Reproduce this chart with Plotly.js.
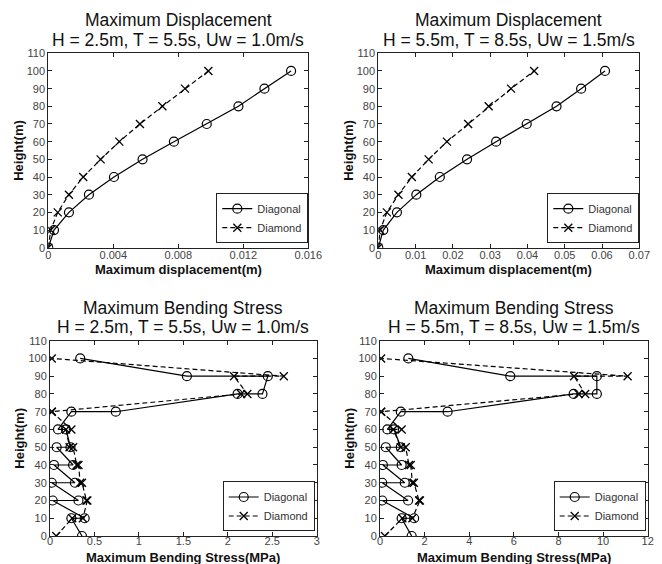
<!DOCTYPE html>
<html>
<head>
<meta charset="utf-8">
<script src="https://cdn.plot.ly/plotly-3.0.1.min.js"></script>
<style>html,body{margin:0;padding:0;background:#fff;}#chart{width:662px;height:564px;}</style>
</head>
<body>
<div id="chart"></div>
<script>
// ---- data ----
const heights = [0, 10, 20, 30, 40, 50, 60, 70, 80, 90, 100];
const dispDiagonalA = [0, 0.00035, 0.00127, 0.0025, 0.00404, 0.0058, 0.00773, 0.00975, 0.0117, 0.0133, 0.01494];
const dispDiamondA  = [0, 0.00015, 0.00058, 0.00127, 0.00215, 0.00322, 0.00437, 0.00564, 0.00702, 0.00841, 0.00985];
const dispDiagonalB = [0, 0.00134, 0.0050, 0.0102, 0.0165, 0.0238, 0.0316, 0.0398, 0.0478, 0.0544, 0.0608];
const dispDiamondB  = [0, 0.0005, 0.0023, 0.0054, 0.009, 0.0135, 0.0184, 0.0241, 0.0296, 0.0356, 0.0418];

const stressHeights = [0, 10, 10, 20, 20, 30, 30, 40, 40, 50, 50, 60, 60, 70, 70, 80, 80, 90, 90, 100];
const stressDiagonalA = [0.36, 0.24, 0.39, 0.03, 0.32, 0.02, 0.28, 0.045, 0.26, 0.075, 0.23, 0.18, 0.09, 0.24, 0.74, 2.11, 2.39, 2.45, 1.54, 0.34];
const stressDiamondA  = [0.07, 0.25, 0.37, 0.42, 0.41, 0.36, 0.34, 0.32, 0.30, 0.26, 0.22, 0.18, 0.24, 0.02, 0.02, 2.15, 2.22, 2.07, 2.63, 0.02];
const stressDiagonalB = [1.42, 0.97, 1.53, 0.10, 1.26, 0.10, 1.11, 0.13, 0.97, 0.26, 0.93, 0.63, 0.33, 0.93, 3.03, 8.68, 9.72, 9.72, 5.84, 1.27];
const stressDiamondB  = [0.22, 1.00, 1.45, 1.79, 1.75, 1.52, 1.45, 1.38, 1.30, 1.15, 0.93, 0.60, 0.97, 0.05, 0.05, 8.90, 9.20, 8.70, 11.10, 0.05];

const seriesNames = ['Diagonal', 'Diamond'];
const titleLine1 = ['Maximum Displacement', 'Maximum Displacement', 'Maximum Bending Stress', 'Maximum Bending Stress'];
const titleLine2 = ['H = 2.5m, T = 5.5s, Uw = 1.0m/s', 'H = 5.5m, T = 8.5s, Uw = 1.5m/s', 'H = 2.5m, T = 5.5s, Uw = 1.0m/s', 'H = 5.5m, T = 8.5s, Uw = 1.5m/s'];
const xTitles = ['Maximum displacement(m)', 'Maximum displacement(m)', 'Maximum Bending Stress(MPa)', 'Maximum Bending Stress(MPa)'];
const yTitle = 'Height(m)';

// ---- drawing ----
const W = 662, Hpx = 564;
const FONT = 'Arial, Liberation Sans, sans-serif';
const boxes = [ // plot boxes in px: [left, right, top, bottom]
  [48.3, 308.3, 53.3, 247.7],
  [378.3, 639.3, 53.3, 247.7],
  [50, 316.7, 340.7, 536],
  [380, 647.7, 340.7, 536]
];
const xRanges = [[0, 0.016], [0, 0.07], [0, 3], [0, 12]];
const xDticks = [0.004, 0.01, 0.5, 2];

function diagTrace(x, y, i) {
  return {x: x, y: y, type: 'scatter', mode: 'lines+markers', name: seriesNames[0],
    xaxis: 'x' + (i + 1), yaxis: 'y' + (i + 1), legend: i === 0 ? 'legend' : 'legend' + (i + 1),
    line: {color: '#000', width: 1.2},
    marker: {symbol: 'circle-open', size: 9, color: '#000', line: {width: 1.2, color: '#000'}}};
}
function diamTrace(x, y, i) {
  return {x: x, y: y, type: 'scatter', mode: 'lines+markers', name: seriesNames[1],
    xaxis: 'x' + (i + 1), yaxis: 'y' + (i + 1), legend: i === 0 ? 'legend' : 'legend' + (i + 1),
    line: {color: '#000', width: 1.2, dash: '5px,3px'},
    marker: {symbol: 'x-thin-open', size: 8, color: '#000', line: {width: 1.3, color: '#000'}}};
}

const data = [
  diagTrace(dispDiagonalA, heights, 0), diamTrace(dispDiamondA, heights, 0),
  diagTrace(dispDiagonalB, heights, 1), diamTrace(dispDiamondB, heights, 1),
  diagTrace(stressDiagonalA, stressHeights, 2), diamTrace(stressDiamondA, stressHeights, 2),
  diagTrace(stressDiagonalB, stressHeights, 3), diamTrace(stressDiamondB, stressHeights, 3)
];

const layout = {
  width: W, height: Hpx, margin: {l: 0, r: 0, t: 0, b: 0},
  paper_bgcolor: '#fff', plot_bgcolor: '#fff',
  font: {family: FONT, color: '#000'},
  showlegend: true,
  annotations: []
};

boxes.forEach((b, i) => {
  const n = i + 1;
  const axBase = {showline: true, linecolor: '#222', linewidth: 1, mirror: 'ticks',
    ticks: 'inside', ticklen: 4, tickcolor: '#222', showgrid: false, zeroline: false,
    tickfont: {family: FONT, size: 11, color: '#444'}, fixedrange: true};
  layout['xaxis' + n] = Object.assign({}, axBase, {
    domain: [b[0] / W, b[1] / W], anchor: 'y' + n, range: xRanges[i],
    tick0: 0, dtick: xDticks[i], ticklabelstandoff: i >= 2 ? -5 : -3
  });
  layout['yaxis' + n] = Object.assign({}, axBase, {
    domain: [1 - b[3] / Hpx, 1 - b[2] / Hpx], anchor: 'x' + n, range: [0, 110],
    tick0: 0, dtick: 10,
    title: {text: yTitle, font: {family: FONT, size: 13, color: '#111', weight: 'bold'}, standoff: 0}
  });
  layout[i === 0 ? 'legend' : 'legend' + n] = {
    x: b[1] / W - (i >= 2 ? 0.003 : 0), xanchor: 'right', xref: 'paper',
    y: 1 - b[3] / Hpx + 0.008, yanchor: 'bottom', yref: 'paper',
    bgcolor: '#fff', bordercolor: '#222', borderwidth: 1,
    font: {family: FONT, size: 11, color: '#333'}, itemwidth: 30, tracegroupgap: 0,
    traceorder: 'normal'
  };
  const cx = (b[0] + b[1]) / 2 / W;
  layout.annotations.push({xref: 'paper', yref: 'paper', x: cx, y: 1 - (b[2] - 33) / Hpx,
    text: titleLine1[i], showarrow: false, xanchor: 'center', yanchor: 'middle',
    font: {family: FONT, size: 17.5, color: '#111'}});
  layout.annotations.push({xref: 'paper', yref: 'paper', x: cx, y: 1 - (b[2] - 13.5) / Hpx,
    text: titleLine2[i], showarrow: false, xanchor: 'center', yanchor: 'middle',
    font: {family: FONT, size: 17.5, color: '#111'}});
  layout.annotations.push({xref: 'paper', yref: 'paper', x: cx, y: 1 - (b[3] + (i >= 2 ? 21.5 : 22)) / Hpx,
    text: '<b>' + xTitles[i] + '</b>', showarrow: false, xanchor: 'center', yanchor: 'middle',
    font: {family: FONT, size: 13, color: '#111'}});
});

Plotly.newPlot('chart', data, layout, {displayModeBar: false, staticPlot: true});
</script>
</body>
</html>
